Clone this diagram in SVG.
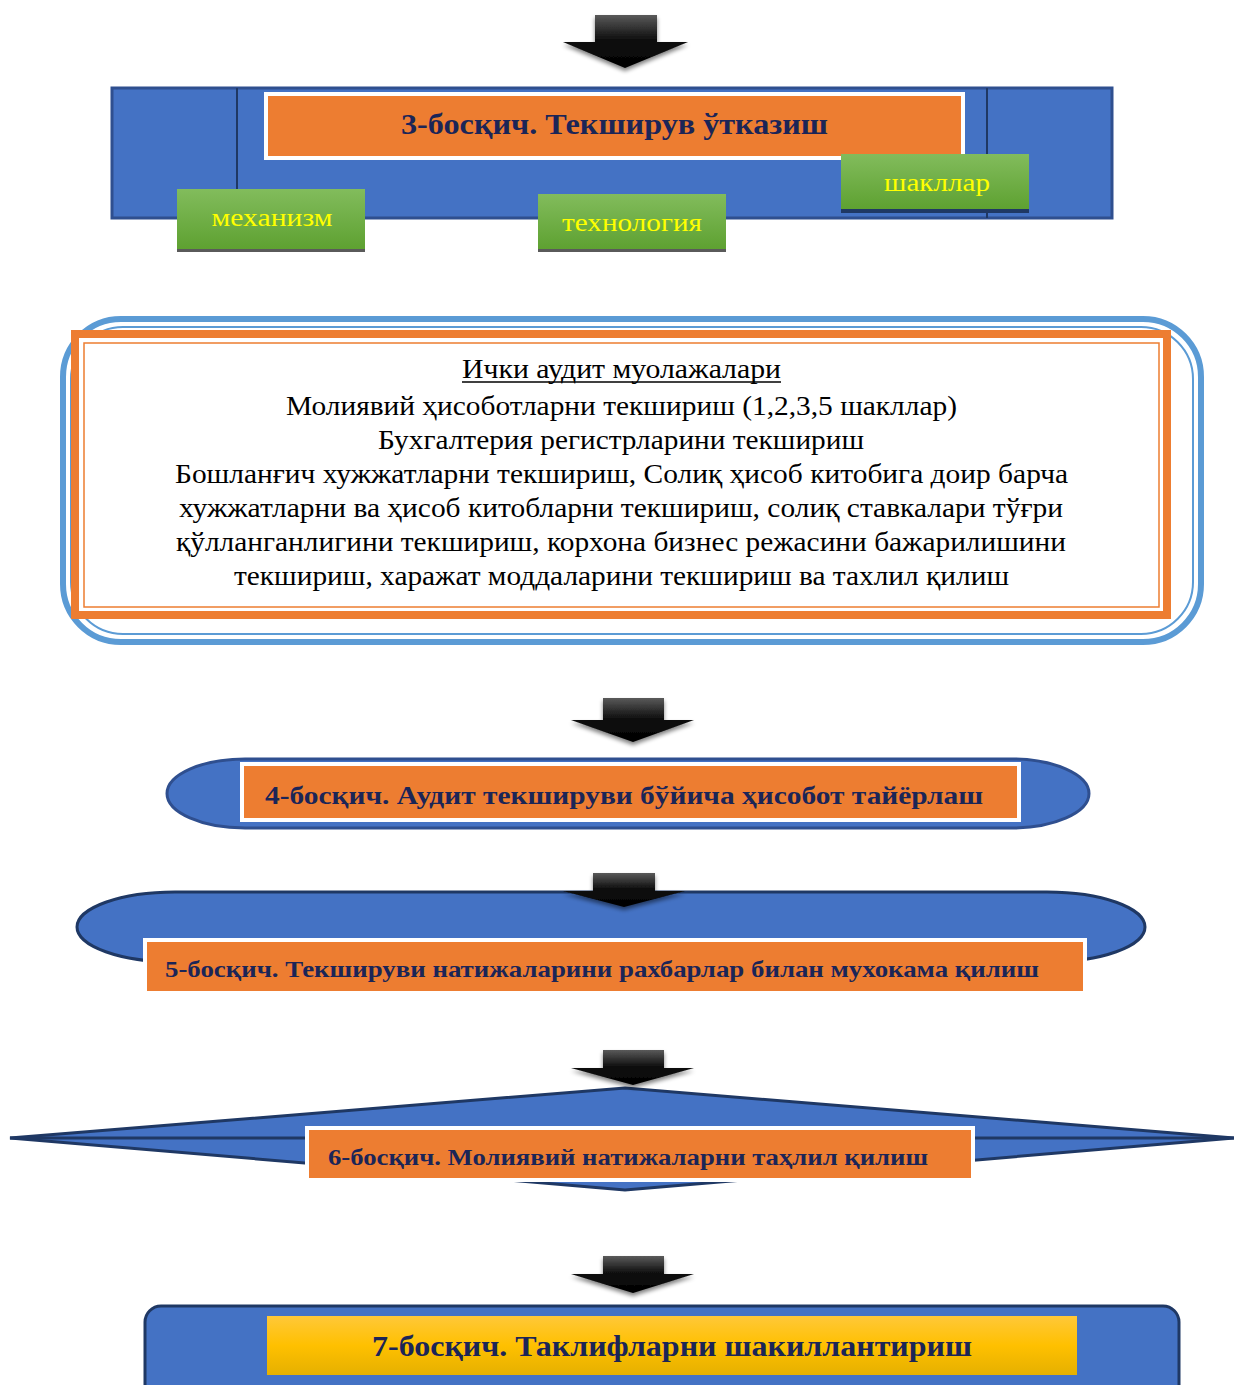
<svg xmlns="http://www.w3.org/2000/svg" width="1234" height="1385" viewBox="0 0 1234 1385">
<defs>
<linearGradient id="arrowGrad" x1="0" y1="0" x2="0" y2="1">
<stop offset="0" stop-color="#5a5a5a"/><stop offset="0.45" stop-color="#111"/><stop offset="1" stop-color="#000"/>
</linearGradient>
<linearGradient id="greenGrad" x1="0" y1="0" x2="0" y2="1">
<stop offset="0" stop-color="#82BC5C"/><stop offset="1" stop-color="#5EA131"/>
</linearGradient>
<linearGradient id="goldGrad" x1="0" y1="0" x2="0" y2="1">
<stop offset="0" stop-color="#FFC839"/><stop offset="0.5" stop-color="#FFC000"/><stop offset="1" stop-color="#E5B000"/>
</linearGradient>
<filter id="shadow" x="-20%" y="-20%" width="140%" height="160%">
<feGaussianBlur in="SourceAlpha" stdDeviation="2"/>
<feOffset dx="0" dy="3" result="b"/>
<feComponentTransfer><feFuncA type="linear" slope="0.5"/></feComponentTransfer>
<feMerge><feMergeNode/><feMergeNode in="SourceGraphic"/></feMerge>
</filter>
</defs>
<style>
.blue{fill:#4472C4;stroke:#2F4F8F;stroke-width:3}
.orange{fill:#ED7D31;stroke:#FFFFFF;stroke-width:4}
.green{fill:url(#greenGrad)}
.arrow{fill:url(#arrowGrad);filter:url(#shadow)}
.title{font-family:"Liberation Serif","Times New Roman",serif;font-weight:bold;fill:#1B2557}
.glabel{font-family:"Liberation Serif","Times New Roman",serif;font-size:26px;fill:#FFFF00;text-anchor:middle}
.body{font-family:"Liberation Serif","Times New Roman",serif;font-size:27px;fill:#000;text-anchor:middle}
</style>

<g id="stage3">
<rect class="blue" x="112" y="88" width="1000" height="130"/>
<line x1="237" y1="88" x2="237" y2="218" stroke="#1F3864" stroke-width="2"/>
<line x1="987" y1="88" x2="987" y2="218" stroke="#1F3864" stroke-width="2"/>
<rect class="orange" x="266" y="94" width="697" height="64"/>
<text class="title" x="614.5" y="134" font-size="30" text-anchor="middle" textLength="427" lengthAdjust="spacingAndGlyphs">3-босқич. Текширув ўтказиш</text>
</g>

<g id="mechanism">
<rect x="177" y="192" width="188" height="60" fill="#5a5a5a"/>
<rect class="green" x="177" y="189" width="188" height="60"/>
<text class="glabel" x="272" y="226" textLength="121" lengthAdjust="spacingAndGlyphs">механизм</text>
</g>
<g id="technology">
<rect x="538" y="197" width="188" height="55" fill="#5a5a5a"/>
<rect class="green" x="538" y="194" width="188" height="55"/>
<text class="glabel" x="632" y="231" textLength="140" lengthAdjust="spacingAndGlyphs">технология</text>
</g>
<g id="forms">
<rect x="841" y="157" width="188" height="56" fill="#1F3864"/>
<rect class="green" x="841" y="154" width="188" height="55"/>
<text class="glabel" x="937" y="191" textLength="106" lengthAdjust="spacingAndGlyphs">шакллар</text>
</g>

<g id="procedures">
<rect x="63" y="319" width="1138" height="323" rx="58" fill="#FFFFFF" stroke="#5B9BD5" stroke-width="6"/>
<rect x="71" y="327" width="1122" height="307" rx="52" fill="none" stroke="#5B9BD5" stroke-width="2"/>
<rect x="75" y="334" width="1092" height="281" fill="#FFFFFF" stroke="#ED7D31" stroke-width="8"/>
<rect x="84" y="343" width="1075" height="264" fill="none" stroke="#ED7D31" stroke-width="1.5"/>
<text class="body" x="621.5" y="378" textLength="319" lengthAdjust="spacingAndGlyphs">Ички аудит муолажалари</text>
<line x1="462" y1="382" x2="781" y2="382" stroke="#000" stroke-width="1.5"/>
<text class="body" x="621.5" y="415" textLength="671" lengthAdjust="spacingAndGlyphs">Молиявий ҳисоботларни текшириш (1,2,3,5 шакллар)</text>
<text class="body" x="621" y="449" textLength="486" lengthAdjust="spacingAndGlyphs">Бухгалтерия регистрларини текшириш</text>
<text class="body" x="621.5" y="483" textLength="893" lengthAdjust="spacingAndGlyphs">Бошланғич хужжатларни текшириш, Солиқ ҳисоб китобига доир барча</text>
<text class="body" x="621" y="517" textLength="884" lengthAdjust="spacingAndGlyphs">хужжатларни ва ҳисоб китобларни текшириш, солиқ ставкалари тўғри</text>
<text class="body" x="621" y="551" textLength="890" lengthAdjust="spacingAndGlyphs">қўлланганлигини текшириш, корхона бизнес режасини бажарилишини</text>
<text class="body" x="621.5" y="585" textLength="775" lengthAdjust="spacingAndGlyphs">текшириш, харажат моддаларини текшириш ва тахлил қилиш</text>
</g>

<g id="stage4">
<path class="blue" d="M245,759 H1011 A78,34.5 0 0 1 1011,828 H245 A78,34.5 0 0 1 245,759 Z"/>
<rect class="orange" x="242" y="764" width="777" height="56"/>
<text class="title" x="265" y="804" font-size="26" textLength="718" lengthAdjust="spacingAndGlyphs">4-босқич. Аудит текшируви бўйича ҳисобот тайёрлаш</text>
</g>

<g id="stage5">
<path class="blue" d="M175,892 H1047 A98,35 0 0 1 1047,962 H175 A98,35 0 0 1 175,892 Z" style="stroke:#1F3864"/>
<rect class="orange" x="145" y="940" width="940" height="53"/>
<text class="title" x="165" y="977" font-size="23" textLength="874" lengthAdjust="spacingAndGlyphs">5-босқич. Текшируви натижаларини рахбарлар билан мухокама қилиш</text>
</g>

<g id="stage6">
<path class="blue" d="M625,1088 L1234,1138 L625,1190 L10,1138 Z" style="stroke:#1F3864"/>
<line x1="10" y1="1138" x2="1234" y2="1138" stroke="#1F3864" stroke-width="3"/>
<rect class="orange" x="307" y="1128" width="666" height="52"/>
<text class="title" x="328" y="1165" font-size="23" textLength="600" lengthAdjust="spacingAndGlyphs">6-босқич. Молиявий натижаларни таҳлил қилиш</text>
</g>

<g id="stage7">
<rect class="blue" x="145" y="1306" width="1034" height="100" rx="16" style="stroke:#1F3864"/>
<rect x="267" y="1316" width="810" height="59" fill="url(#goldGrad)"/>
<text class="title" x="672" y="1356" font-size="29" text-anchor="middle" textLength="600" lengthAdjust="spacingAndGlyphs">7-босқич. Таклифларни шакиллантириш</text>
</g>

<g id="connectors">
<path class="arrow" d="M595,15 H657 V42 H688 L625,68 L563,42 H595 Z"/>
<path class="arrow" d="M603,698 H664 V720 H694 L633,742 L571,720 H603 Z"/>
<path class="arrow" d="M593,873 H655 V891 H685 L624,907 L563,891 H593 Z"/>
<path class="arrow" d="M603,1050 H664 V1068 H694 L633,1085 L571,1068 H603 Z"/>
<path class="arrow" d="M603,1256 H664 V1274 H694 L633,1293 L571,1274 H603 Z"/>
</g>
</svg>
